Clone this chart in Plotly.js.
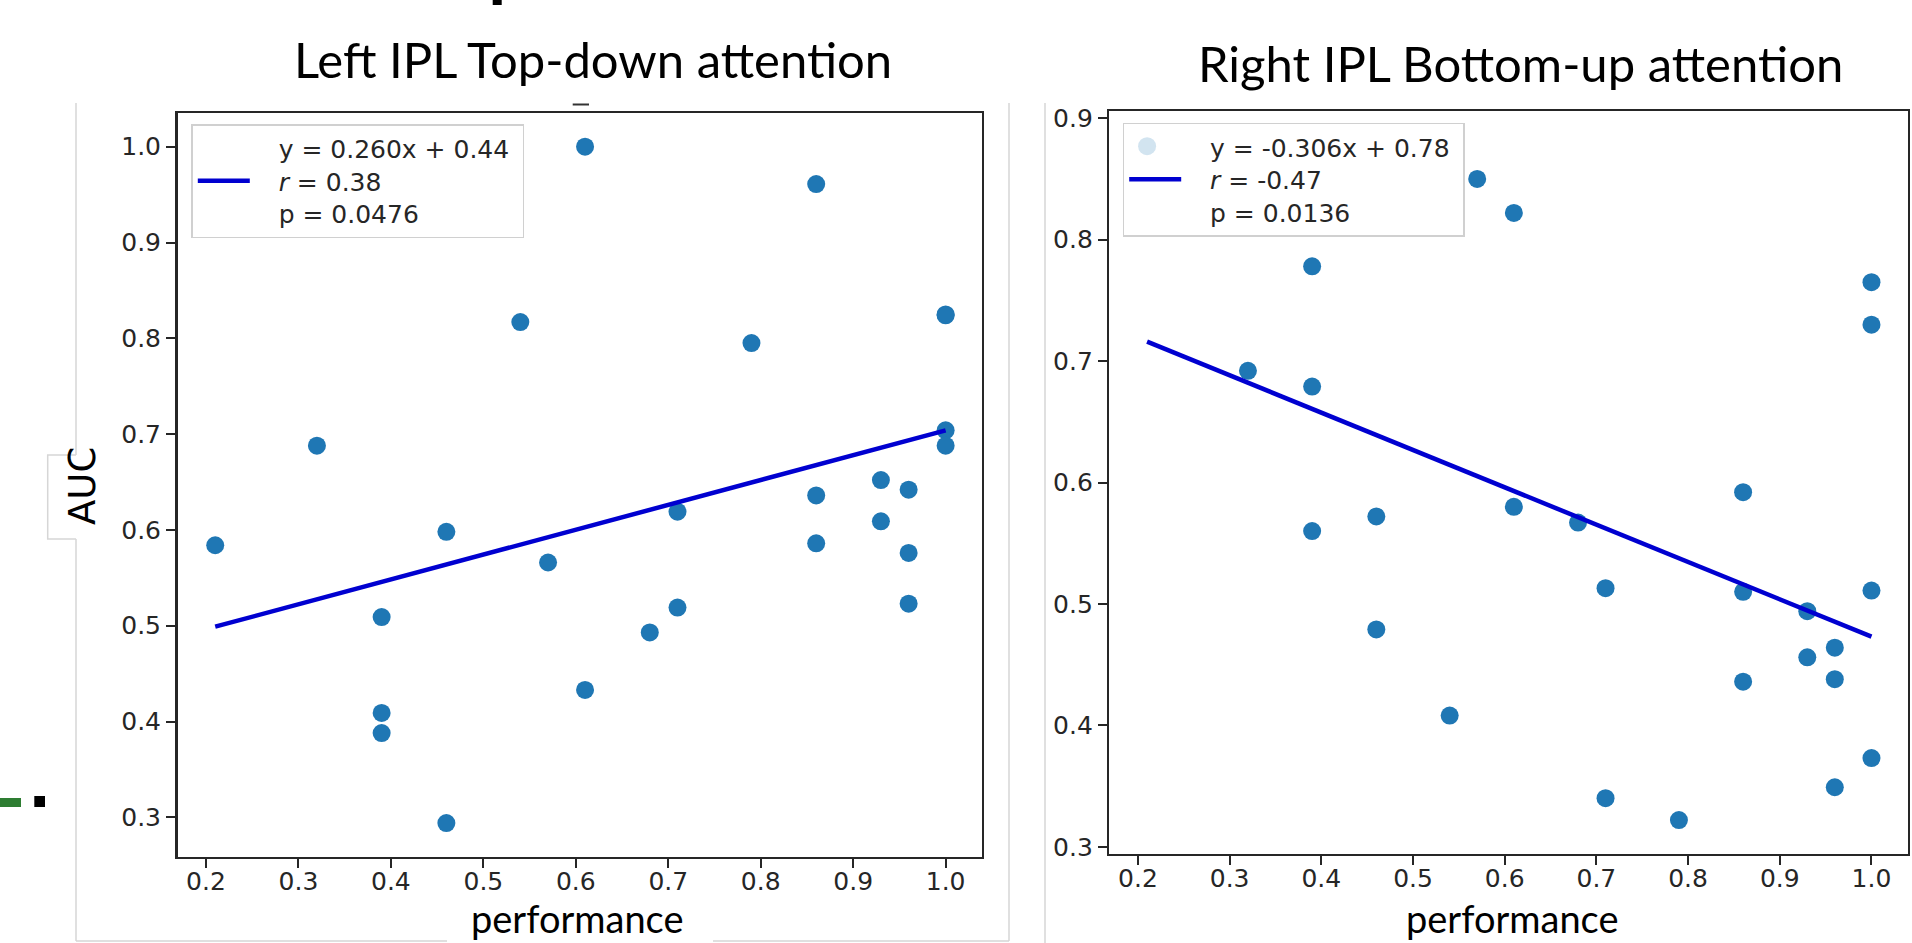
<!DOCTYPE html>
<html>
<head>
<meta charset="utf-8">
<script src="https://cdn.plot.ly/plotly-3.0.1.min.js"></script>
<style>
  html, body { margin: 0; padding: 0; background: #ffffff; }
  #chart { width: 1912px; height: 943px; }
</style>
</head>
<body>
<div id="chart"></div>
<script>
// ---------------- data ----------------
const perfLeft = [0.21, 0.32, 0.39, 0.39, 0.39, 0.46, 0.46, 0.54, 0.57, 0.61, 0.61, 0.68, 0.71, 0.71,
                  0.79, 0.86, 0.86, 0.86, 0.93, 0.93, 0.96, 0.96, 0.96, 1.0, 1.0, 1.0, 1.0];
const aucLeft  = [0.584, 0.688, 0.509, 0.409, 0.388, 0.598, 0.294, 0.817, 0.566, 1.000, 0.433, 0.493, 0.619, 0.519,
                  0.795, 0.961, 0.636, 0.586, 0.652, 0.609, 0.642, 0.576, 0.523, 0.825, 0.824, 0.704, 0.688];

const perfRight = [0.21, 0.32, 0.39, 0.39, 0.39, 0.46, 0.46, 0.54, 0.57, 0.61, 0.61, 0.68, 0.71, 0.71,
                   0.79, 0.86, 0.86, 0.86, 0.93, 0.93, 0.96, 0.96, 0.96, 1.0, 1.0, 1.0, 1.0];
const aucRight  = [0.877, 0.692, 0.778, 0.679, 0.560, 0.572, 0.479, 0.408, 0.850, 0.822, 0.580, 0.567, 0.513, 0.340,
                   0.322, 0.592, 0.510, 0.436, 0.494, 0.456, 0.464, 0.438, 0.349, 0.765, 0.730, 0.511, 0.373];

// regression lines as drawn (end points)
const fitLeftX  = [0.21, 1.0];
const fitLeftY  = [0.499, 0.704];
const fitRightX = [0.21, 1.0];
const fitRightY = [0.716, 0.473];

const legendLeft  = ["y = 0.260x + 0.44", "<i>r</i> = 0.38", "p = 0.0476"];
const legendRight = ["y = -0.306x + 0.78", "<i>r</i> = -0.47", "p = 0.0136"];

const titles = ["Left IPL Top-down attention", "Right IPL Bottom-up attention"];
const xTitle = "performance";
const yTitle = "AUC";

const xTicks = [0.2, 0.3, 0.4, 0.5, 0.6, 0.7, 0.8, 0.9, 1.0];
const yTicksLeft  = [0.3, 0.4, 0.5, 0.6, 0.7, 0.8, 0.9, 1.0];
const yTicksRight = [0.3, 0.4, 0.5, 0.6, 0.7, 0.8, 0.9];

// ---------------- geometry helpers ----------------
const W = 1912, H = 943;
const px = v => v / W;
const py = v => 1 - v / H;

const DOT = '#1f77b4';
const FIT = '#0000d0';
const TICKFONT = {family: 'DejaVu Sans, Liberation Sans, sans-serif', size: 25, color: '#262626'};
const LEGFONT  = {family: 'DejaVu Sans, Liberation Sans, sans-serif', size: 25, color: '#262626'};
const TITLEFONT = {family: 'Lato, Open Sans, sans-serif', size: 49, color: '#000000'};
const LABELFONT = {family: 'Lato, Open Sans, sans-serif', size: 38, color: '#000000'};

const NB = '\u00a0';
const legendName = lines => lines.map((s, i) => NB + NB + NB + s + (i === 0 ? NB : '')).join('<br>');

const traces = [
  {x: perfLeft, y: aucLeft, type: 'scatter', mode: 'markers', xaxis: 'x', yaxis: 'y',
   marker: {color: DOT, size: 18}, showlegend: false, hoverinfo: 'x+y'},
  {x: fitLeftX, y: fitLeftY, type: 'scatter', mode: 'lines', xaxis: 'x', yaxis: 'y',
   line: {color: FIT, width: 4.5}, name: legendName(legendLeft), legend: 'legend', showlegend: true},
  {x: perfRight, y: aucRight, type: 'scatter', mode: 'markers', xaxis: 'x2', yaxis: 'y2',
   marker: {color: DOT, size: 18}, showlegend: false, hoverinfo: 'x+y'},
  {x: fitRightX, y: fitRightY, type: 'scatter', mode: 'lines', xaxis: 'x2', yaxis: 'y2',
   line: {color: FIT, width: 4.5}, name: legendName(legendRight), legend: 'legend2', showlegend: true}
];

function axisCommon(ticks, standoff) {
  return {
    tickmode: 'array', tickvals: ticks, ticktext: ticks.map(t => t.toFixed(1)),
    ticks: 'outside', ticklen: 9, tickwidth: 2, tickcolor: '#262626',
    tickfont: TICKFONT, ticklabelstandoff: standoff,
    showline: true, linecolor: '#262626', linewidth: 2.5, mirror: true,
    showgrid: false, zeroline: false, fixedrange: true
  };
}

const grayLine = {color: '#d6d6d6', width: 1.5};

const layout = {
  width: W, height: H,
  margin: {l: 0, r: 0, t: 0, b: 0, pad: 0},
  paper_bgcolor: '#ffffff', plot_bgcolor: 'rgba(0,0,0,0)',
  showlegend: true,
  xaxis: Object.assign(axisCommon(xTicks, -8), {domain: [px(177.5), px(981.5)], range: [0.1692, 1.0388], anchor: 'y'}),
  yaxis: Object.assign(axisCommon(yTicksLeft, 0), {domain: [py(856.7), py(113.3)], range: [0.2589, 1.0349], anchor: 'x'}),
  xaxis2: Object.assign(axisCommon(xTicks, -8), {domain: [px(1109.3), px(1907.7)], range: [0.1688, 1.0395], anchor: 'y2'}),
  yaxis2: Object.assign(axisCommon(yTicksRight, 0), {domain: [py(853.8), py(111.2)], range: [0.2942, 0.9058], anchor: 'x2'}),
  legend: {x: px(191.3), y: py(124), xanchor: 'left', yanchor: 'top',
           bgcolor: 'rgba(255,255,255,0.8)', bordercolor: '#d0d0d0', borderwidth: 1.5,
           font: LEGFONT, itemwidth: 52},
  legend2: {x: px(1122.7), y: py(122.5), xanchor: 'left', yanchor: 'top',
           bgcolor: 'rgba(255,255,255,0.8)', bordercolor: '#d0d0d0', borderwidth: 1.5,
           font: LEGFONT, itemwidth: 52},
  annotations: [
    {text: titles[0], xref: 'paper', yref: 'paper', x: px(593), y: py(59), xanchor: 'center', yanchor: 'middle',
     showarrow: false, font: TITLEFONT},
    {text: titles[1], xref: 'paper', yref: 'paper', x: px(1520), y: py(63), xanchor: 'center', yanchor: 'middle',
     showarrow: false, font: TITLEFONT},
    {text: xTitle, xref: 'paper', yref: 'paper', x: px(577), y: py(918), xanchor: 'center', yanchor: 'middle',
     showarrow: false, font: LABELFONT, bgcolor: '#ffffff'},
    {text: xTitle, xref: 'paper', yref: 'paper', x: px(1512), y: py(918), xanchor: 'center', yanchor: 'middle',
     showarrow: false, font: LABELFONT},
    {text: yTitle, xref: 'paper', yref: 'paper', x: px(83), y: py(486), xanchor: 'center', yanchor: 'middle',
     textangle: -90, showarrow: false, font: {family: 'DejaVu Sans, sans-serif', size: 37, color: '#000'}}
  ],
  shapes: [
    // page decorations (borders of pasted panels)
    {type: 'line', xref: 'paper', yref: 'paper', x0: px(76), x1: px(76), y0: py(103), y1: py(455), line: grayLine, layer: 'below'},
    {type: 'line', xref: 'paper', yref: 'paper', x0: px(76), x1: px(76), y0: py(539), y1: py(941), line: grayLine, layer: 'below'},
    {type: 'path', xref: 'paper', yref: 'paper',
     path: `M ${px(76)},${py(455)} L ${px(47.7)},${py(455)} L ${px(47.7)},${py(539)} L ${px(76)},${py(539)}`,
     line: grayLine, layer: 'below'},
    {type: 'line', xref: 'paper', yref: 'paper', x0: px(76), x1: px(447), y0: py(941), y1: py(941), line: grayLine, layer: 'below'},
    {type: 'line', xref: 'paper', yref: 'paper', x0: px(713), x1: px(1009), y0: py(941), y1: py(941), line: grayLine, layer: 'below'},
    {type: 'line', xref: 'paper', yref: 'paper', x0: px(1009), x1: px(1009), y0: py(103), y1: py(941), line: grayLine, layer: 'below'},
    {type: 'line', xref: 'paper', yref: 'paper', x0: px(1045), x1: px(1045), y0: py(103), y1: py(943), line: grayLine, layer: 'below'},
    // fragments at edges
    {type: 'rect', xref: 'paper', yref: 'paper', x0: px(0), x1: px(21), y0: py(807), y1: py(798), fillcolor: '#2e7d32', line: {width: 0}},
    {type: 'rect', xref: 'paper', yref: 'paper', x0: px(34.3), x1: px(45), y0: py(807), y1: py(796), fillcolor: '#000000', line: {width: 0}},
    {type: 'rect', xref: 'paper', yref: 'paper', x0: px(492.7), x1: px(501.7), y0: py(5), y1: py(0), fillcolor: '#000000', line: {width: 0}},
    {type: 'rect', xref: 'paper', yref: 'paper', x0: px(572.7), x1: px(589), y0: py(105.5), y1: py(103.5), fillcolor: '#333333', line: {width: 0}}
  ]
};

Plotly.newPlot('chart', traces, layout, {displayModeBar: false, staticPlot: true});
</script>
</body>
</html>
